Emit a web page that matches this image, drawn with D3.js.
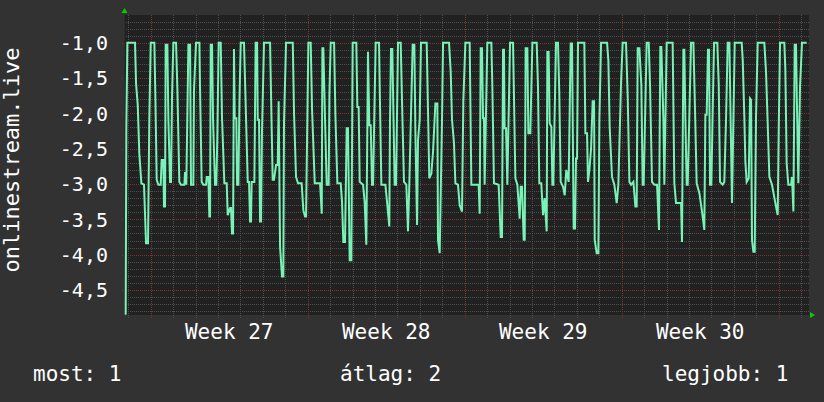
<!DOCTYPE html>
<html>
<head>
<meta charset="utf-8">
<script src="https://cdn.jsdelivr.net/npm/d3@7"></script>
<style>
  html, body { margin: 0; padding: 0; background: #323232; }
  svg { display: block; }
  text { font-family: "DejaVu Sans Mono", monospace; fill: #ffffff; }
  .grid line { shape-rendering: crispEdges; stroke-dasharray: 1,1; }
</style>
</head>
<body>
<div class="container"></div>
<script>
// hours from Monday 2024-07-01 00:00 (start of week 27), rank value
var rankSeries = [
  [-26.8, -4.85], [-26.1, -2.21], [-25.0, -1], [-16.8, -1], [-15.7, -1.58], [-13.9, -1.88],
  [-12.2, -2.57], [-10.0, -2.99], [-7.2, -3.01], [-5.0, -3.84], [-2.9, -3.84], [-1.5, -2.07],
  [0, -1], [3.9, -1], [5.0, -1.79], [6.4, -2.94], [8.2, -3.01], [10.7, -3.01], [11.7, -2.66],
  [13.5, -2.66], [14.2, -3.32], [15.3, -3.32], [16.0, -1.03], [17.8, -1.03], [18.9, -2.09],
  [20.7, -2.97], [21.7, -2.97], [22.8, -1.76], [24.2, -1], [27.1, -1], [28.5, -1.65],
  [30.6, -2.97], [32.4, -3.01], [36.0, -3.01], [36.7, -2.83], [38.1, -3.01], [40.3, -1.03],
  [42.1, -1.03], [43.1, -3.01], [45.6, -3.01], [46.3, -1.67], [48.5, -1], [52.1, -1],
  [52.8, -1.67], [54.5, -2.97], [56.3, -3.01], [59.2, -3.01], [59.9, -2.90], [61.7, -2.90],
  [62.7, -3.46], [63.5, -3.46], [64.2, -1.03], [65.6, -1.03], [66.7, -2.09], [68.8, -3.01],
  [70.2, -3.01], [71.3, -2.31], [72.7, -1], [74.9, -1], [76.3, -2.07], [78.8, -2.99],
  [81.3, -2.99], [82.4, -3.44], [84.9, -3.34], [85.9, -3.34], [87.0, -3.70], [88.1, -3.70],
  [89.1, -1.09], [89.9, -2.07], [91.6, -2.07], [92.4, -3.01], [93.8, -3.01], [94.9, -1.86],
  [96.3, -1], [99.8, -1], [101.3, -1.72], [103.8, -2.97], [105.2, -2.97], [106.3, -3.53],
  [107.3, -3.53], [108.0, -2.97], [110.9, -2.97], [112.3, -1], [113.8, -1], [114.5, -2.09],
  [115.9, -2.09], [117.0, -3.53], [118.0, -3.53], [119.1, -2.24], [121.2, -1], [127.7, -1],
  [129.5, -2.26], [130.5, -2.94], [131.9, -2.94], [134.1, -2.73], [135.9, -2.73], [136.9, -1.83],
  [138.4, -3.89], [140.5, -4.31], [141.9, -4.31], [142.6, -2.14], [144.8, -1], [152.0, -1],
  [153.4, -2.02], [155.5, -2.90], [157.6, -2.99], [161.5, -2.99], [163.3, -3.37], [165.1, -3.46],
  [166.2, -3.46], [167.6, -2.07], [168.7, -1], [171.2, -1], [172.6, -1.93], [175.5, -2.99],
  [181.2, -2.99], [183.0, -3.42], [183.7, -1.08], [184.7, -1.08], [186.5, -2.07], [188.3, -3.01],
  [190.4, -3.01], [191.2, -1.74], [192.6, -1], [196.2, -1], [197.6, -2.02], [199.7, -2.99],
  [203.3, -2.99], [204.7, -3.25], [206.1, -3.82], [207.9, -3.82], [209.7, -2.21], [211.1, -2.21],
  [212.9, -4.08], [214.7, -4.08], [216.1, -1], [220.0, -1], [221.1, -1.91], [222.5, -1.91],
  [223.6, -2.97], [227.2, -3.01], [228.9, -3.25], [230.7, -3.86], [232.5, -1.13], [233.9, -2.17],
  [235.4, -2.17], [236.8, -3.01], [237.9, -3.01], [240.7, -1], [244.3, -1], [245.3, -1.83],
  [246.8, -3.01], [251.1, -3.01], [253.2, -3.30], [255.3, -3.60], [256.0, -2.17], [257.1, -1.09],
  [258.5, -1.09], [259.9, -2.14], [261.0, -3.01], [262.5, -3.01], [264.6, -1], [267.5, -1],
  [268.9, -1.83], [271.0, -2.97], [273.5, -3.01], [275.3, -3.67], [276.7, -3.01], [280.3, -1.03],
  [282.1, -1.03], [283.2, -2.26], [285.0, -3.58], [286.0, -2.38], [287.8, -2.09], [289.2, -1],
  [295.3, -1], [296.7, -1.95], [298.1, -2.92], [300.3, -2.85], [302.1, -2.54], [304.6, -1.86],
  [306.7, -1.86], [307.4, -3.79], [309.2, -3.98], [311.7, -2.09], [312.8, -1], [319.2, -1],
  [321.0, -1.41], [322.4, -2.09], [324.5, -2.42], [326.0, -2.99], [328.8, -3.01], [330.6, -3.30],
  [333.1, -3.39], [334.5, -1.83], [336.7, -1], [341.3, -1], [343.1, -3.01], [350.9, -3.01],
  [352.0, -3.42], [353.1, -1.08], [354.5, -1.08], [355.6, -2.07], [356.6, -2.07], [357.3, -3.01],
  [360.2, -1], [364.5, -1], [365.5, -1.58], [367.3, -2.99], [372.3, -3.01], [374.5, -3.75],
  [375.9, -3.75], [377.0, -1.10], [378.0, -1.10], [378.7, -2.21], [380.2, -2.21], [381.6, -3.01],
  [384.5, -1], [387.7, -1], [390.2, -2.92], [392.3, -3.01], [394.8, -3.49], [395.9, -3.04],
  [397.3, -3.04], [399.1, -3.79], [400.2, -3.79], [401.2, -1.08], [403.0, -1.08], [404.1, -2.28],
  [406.2, -2.28], [408.4, -1], [413.0, -1], [414.4, -1.62], [415.8, -2.99], [417.9, -2.99],
  [419.8, -3.44], [421.5, -3.20], [423.7, -3.67], [424.4, -1.13], [425.8, -1.13], [426.9, -2.14],
  [428.7, -2.19], [429.8, -3.01], [430.8, -3.01], [433.7, -1], [435.8, -1], [437.2, -1.72],
  [438.7, -2.97], [441.2, -3.04], [443.0, -3.16], [444.7, -2.80], [447.2, -2.97], [449.4, -1.01],
  [450.8, -1.01], [452.6, -3.63], [454.0, -3.63], [455.1, -2.64], [456.2, -2.64], [457.2, -1],
  [464.0, -1], [465.1, -2.28], [466.9, -2.28], [467.9, -2.97], [469.4, -2.80], [471.2, -2.50],
  [472.9, -1.83], [474.4, -1.83], [475.1, -3.79], [477.2, -3.98], [479.0, -3.98], [480.1, -2.09],
  [481.9, -1], [488.3, -1], [489.7, -1.25], [491.1, -2.19], [493.6, -2.90], [496.1, -3.01],
  [498.6, -3.27], [500.4, -3.01], [503.3, -1.55], [505.0, -1], [508.6, -1], [510.4, -1.76],
  [512.2, -2.97], [514.0, -3.01], [516.5, -2.97], [518.6, -3.32], [520.0, -3.32], [521.1, -1.08],
  [522.9, -1.08], [525.0, -1.60], [526.4, -3.01], [527.5, -3.01], [530.7, -1], [532.9, -1],
  [534.3, -1.60], [536.4, -2.97], [538.9, -3.01], [541.8, -3.01], [543.9, -3.65], [545.3, -1.06],
  [546.4, -1.06], [548.6, -2.09], [549.6, -3.01], [551.4, -1.58], [552.1, -1], [558.5, -1],
  [560.3, -2.99], [562.1, -3.27], [567.5, -3.27], [568.5, -3.82], [570.0, -1.10], [571.0, -1.10],
  [572.1, -2.07], [573.5, -3.01], [574.6, -3.01], [578.2, -1], [580.7, -1], [582.1, -1.76],
  [584.2, -2.99], [587.1, -3.13], [589.9, -3.39], [592.4, -3.65], [593.5, -2.02], [594.9, -2.02],
  [596.3, -1.10], [597.4, -1.10], [598.5, -3.01], [599.9, -3.01], [601.3, -2.00], [602.8, -1],
  [606.3, -1], [607.8, -1.58], [609.2, -2.97], [612.0, -3.01], [613.8, -2.97], [615.6, -2.09],
  [617.4, -1], [619.2, -1], [620.6, -2.14], [622.0, -3.27], [623.5, -2.09], [624.9, -1],
  [632.4, -1], [633.5, -1.25], [635.2, -2.05], [636.3, -2.68], [637.7, -2.97], [639.9, -2.92],
  [641.3, -1.79], [642.4, -1.81], [643.4, -3.79], [644.9, -3.96], [646.3, -3.96], [647.7, -2.05],
  [649.5, -1], [656.6, -1], [658.4, -1.41], [660.2, -2.14], [662.0, -2.90], [664.8, -3.01],
  [669.1, -3.32], [670.9, -3.44], [672.0, -2.24], [673.4, -1], [678.0, -1], [679.1, -1.39],
  [680.5, -2.71], [682.3, -3.01], [685.2, -3.01], [686.2, -2.90], [687.7, -3.39], [689.1, -1.03],
  [690.5, -1.03], [691.6, -1.95], [693.0, -2.99], [694.8, -1.62], [696.9, -1], [701.9, -1]
];

var weekLabels = ["Week 27", "Week 28", "Week 29", "Week 30"];
var yTicks = [-1.0, -1.5, -2.0, -2.5, -3.0, -3.5, -4.0, -4.5];
var legendItems = ["most: 1", "átlag: 2", "legjobb: 1"];
var yTitle = "onlinestream.live";

var t0 = Date.UTC(2024, 6, 1);
function hourToDate(h) { return new Date(t0 + h * 3600e3); }

var margin = { top: 15, right: 15, bottom: 87, left: 124 }
    , width = 824 - margin.left - margin.right
    , height = 402 - margin.top - margin.bottom;

var x = d3.scaleUtc()
    .domain([hourToDate(-28.6), hourToDate(704.4)])
    .range([0, width]);

var y = d3.scaleLinear()
    .domain([-4.854, -0.608])
    .range([height, 0]);

var fmt = d3.formatLocale({ decimal: ",", thousands: " ", grouping: [3], currency: ["", ""], minus: "-" }).format(".1f");

var svg = d3.select(".container").append("svg")
    .attr("width", width + margin.left + margin.right)
    .attr("height", height + margin.top + margin.bottom);

var g = svg.append("g")
    .attr("transform", "translate(" + margin.left + "," + margin.top + ")");

g.append("rect")
    .attr("width", width)
    .attr("height", height)
    .attr("fill", "#212121");

function px(v) { return Math.round(v) + 0.5; }

// minor grid: every 0.1 and every day
var minorY = d3.range(-48, -6).map(function (d) { return d / 10; });
g.append("g").attr("class", "grid").selectAll("line")
    .data(minorY)
    .enter().append("line")
    .attr("x1", 0).attr("x2", width)
    .attr("y1", function (d) { return px(y(d)); })
    .attr("y2", function (d) { return px(y(d)); })
    .attr("stroke", "#4e4e4e");

var days = d3.utcDay.range(x.domain()[0], x.domain()[1]);
g.append("g").attr("class", "grid").selectAll("line")
    .data(days)
    .enter().append("line")
    .attr("x1", function (d) { return px(x(d)); })
    .attr("x2", function (d) { return px(x(d)); })
    .attr("y1", 0).attr("y2", height + 3)
    .attr("stroke", "#4e4e4e");

// major grid: every 0.5 and every week
g.append("g").attr("class", "grid").selectAll("line")
    .data(yTicks)
    .enter().append("line")
    .attr("x1", -2).attr("x2", width)
    .attr("y1", function (d) { return px(y(d)); })
    .attr("y2", function (d) { return px(y(d)); })
    .attr("stroke", "#763636");

var weeks = d3.utcMonday.range(x.domain()[0], x.domain()[1]);
g.append("g").attr("class", "grid").selectAll("line")
    .data(weeks)
    .enter().append("line")
    .attr("x1", function (d) { return px(x(d)); })
    .attr("x2", function (d) { return px(x(d)); })
    .attr("y1", 0).attr("y2", height + 3)
    .attr("stroke", "#763636");

// y axis line
g.append("line")
    .attr("x1", 0.5).attr("x2", 0.5)
    .attr("y1", -4).attr("y2", height)
    .attr("stroke", "#2c2c2c");

// y tick labels
g.append("g").selectAll("text")
    .data(yTicks)
    .enter().append("text")
    .attr("x", -16)
    .attr("y", function (d) { return y(d) + 7.3; })
    .attr("text-anchor", "end")
    .attr("font-size", "20px")
    .text(function (d) { return fmt(d); });

// week labels centred in each week
g.append("g").selectAll("text")
    .data(weekLabels)
    .enter().append("text")
    .attr("x", function (d, i) { return x(d3.utcHour.offset(weeks[i], 84)); })
    .attr("y", height + 24)
    .attr("text-anchor", "middle")
    .attr("font-size", "21px")
    .text(function (d) { return d; });

// the series
var line = d3.line()
    .x(function (d) { return x(hourToDate(d[0])); })
    .y(function (d) { return y(d[1]); });

g.append("path")
    .datum(rankSeries)
    .attr("fill", "none")
    .attr("stroke", "#78f2b6")
    .attr("stroke-width", 2)
    .attr("stroke-linejoin", "miter")
    .attr("d", line);

// axis arrows
g.append("path")
    .attr("d", "M-2.5,-2 L3.5,-2 L0.5,-7 Z")
    .attr("fill", "#00d000");
g.append("path")
    .attr("d", "M" + (width + 1) + ",-3 L" + (width + 1) + "," + 3 + " L" + (width + 6) + ",0 Z")
    .attr("transform", "translate(0," + height + ")")
    .attr("fill", "#00d000");

// y title
svg.append("text")
    .attr("transform", "translate(19," + 160 + ") rotate(-90)")
    .attr("text-anchor", "middle")
    .attr("font-size", "22px")
    .text(yTitle);

// legend
var legendX = [33, 340, 662];
svg.append("g").selectAll("text")
    .data(legendItems)
    .enter().append("text")
    .attr("x", function (d, i) { return legendX[i]; })
    .attr("y", 381)
    .attr("font-size", "21px")
    .text(function (d) { return d; });
</script>
</body>
</html>
